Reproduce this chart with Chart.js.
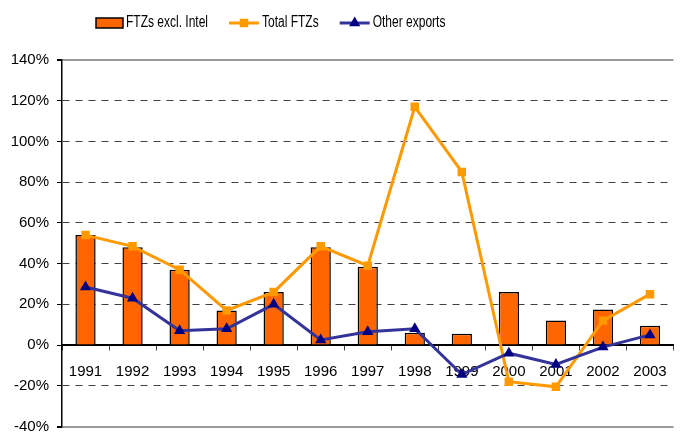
<!DOCTYPE html>
<html>
<head>
<meta charset="utf-8">
<script src="https://cdn.jsdelivr.net/npm/chart.js@4"></script>
<style>
  html, body { margin: 0; padding: 0; background: #fff; }
  #wrap { width: 680px; height: 433px; }
</style>
</head>
<body>
<div id="wrap"><canvas id="chart" width="680" height="433"></canvas></div>
<script>
'use strict';
var years = ['1991', '1992', '1993', '1994', '1995', '1996', '1997', '1998', '1999', '2000', '2001', '2002', '2003'];
var ftzExclIntel = [54, 48, 37, 17, 26, 48, 38.5, 6, 5.5, 26, 12, 17.5, 9.5];
var totalFtz = [54, 48.5, 37, 17, 26, 48.5, 39, 117, 85, -18, -20.5, 12, 25];
var otherExports = [28.5, 23, 7, 8, 20, 2.5, 6.5, 8, -14.5, -4, -9.5, -1, 5];
var seriesNames = ['FTZs excl. Intel', 'Total FTZs', 'Other exports'];
var yMin = -40;
var yMax = 140;
var yStep = 20;

var fontFamily = "'Liberation Sans', Arial, sans-serif";

// legend drawn by hand so the swatches look like the original (line + marker)
// text is squeezed a bit, the original font is narrow
var topLegend = {
  id: 'topLegend',
  afterDraw: function (chart) {
    var ctx = chart.ctx;
    var ds = chart.data.datasets;
    var squeeze = 0.75;
    var x = 96;
    var y = 23;
    ctx.save();
    ctx.font = '16px ' + fontFamily;
    ctx.textBaseline = 'middle';
    for (var i = 0; i < ds.length; i++) {
      if (ds[i].type === 'bar') {
        ctx.fillStyle = ds[i].backgroundColor;
        ctx.fillRect(x, y - 5, 27, 10);
        ctx.strokeStyle = '#000';
        ctx.lineWidth = 1.5;
        ctx.strokeRect(x, y - 5, 27, 10);
      } else {
        ctx.strokeStyle = ds[i].borderColor;
        ctx.lineWidth = 3;
        ctx.beginPath();
        ctx.moveTo(x, y);
        ctx.lineTo(x + 30, y);
        ctx.stroke();
        ctx.fillStyle = ds[i].pointBackgroundColor;
        Chart.helpers.drawPoint(ctx, {
          pointStyle: ds[i].pointStyle,
          radius: ds[i].pointRadius,
          borderWidth: 0
        }, x + 15, y);
      }
      x += (ds[i].type === 'bar' ? 30 : 33);
      ctx.fillStyle = '#000';
      ctx.save();
      ctx.translate(x, y);
      ctx.scale(squeeze, 1);
      ctx.fillText(ds[i].label, 0, 0);
      ctx.restore();
      x += ctx.measureText(ds[i].label).width * squeeze + 21;
    }
    ctx.restore();
  }
};

function gridDash(c) {
  if (c.type !== 'tick') return [];
  var v = c.tick.value;
  if (v === 0 || v === yMin || v === yMax) return [];
  return [7, 6];
}

var ctx = document.getElementById('chart').getContext('2d');
var chart = new Chart(ctx, {
  type: 'bar',
  data: {
    labels: years,
    datasets: [{
      type: 'bar',
      label: seriesNames[0],
      data: ftzExclIntel,
      backgroundColor: '#FF6600',
      borderColor: '#000',
      borderWidth: 1.5,
      barPercentage: 0.43,
      categoryPercentage: 1,
      order: 2
    }, {
      type: 'line',
      label: seriesNames[1],
      data: totalFtz,
      borderColor: '#FF9900',
      borderWidth: 3,
      pointStyle: 'rect',
      pointRadius: 6,
      pointBackgroundColor: '#FF9900',
      pointBorderWidth: 0,
      tension: 0,
      order: 1
    }, {
      type: 'line',
      label: seriesNames[2],
      data: otherExports,
      borderColor: '#333399',
      borderWidth: 3,
      pointStyle: 'triangle',
      pointRadius: 6.5,
      pointBackgroundColor: '#000080',
      pointBorderWidth: 0,
      tension: 0,
      order: 0
    }]
  },
  options: {
    responsive: false,
    devicePixelRatio: 1,
    animation: false,
    layout: { padding: { top: 60, left: 0, right: 0, bottom: 4 } },
    plugins: {
      legend: { display: false },
      tooltip: { enabled: false }
    },
    scales: {
      x: {
        position: { y: 0 },
        grid: {
          drawOnChartArea: false,
          drawTicks: true,
          tickLength: 5,
          tickColor: '#444',
          offset: true
        },
        border: { color: '#000', width: 1.5 },
        ticks: {
          color: '#000',
          padding: 13,
          maxRotation: 0,
          font: { family: fontFamily, size: 15 }
        }
      },
      y: {
        min: yMin,
        max: yMax,
        afterFit: function (scale) {
          scale.width = 62;
          scale.paddingTop = 0;
          scale.paddingBottom = 0;
        },
        grid: {
          color: function (c) {
            var v = c.tick ? c.tick.value : null;
            if (v === yMax || v === yMin) return '#999';
            if (v === 0) return '#000';
            return '#404040';
          },
          lineWidth: function (c) {
            var v = c.tick ? c.tick.value : null;
            return (v === yMax || v === yMin) ? 2 : 1;
          },
          tickLength: 5,
          tickColor: '#000'
        },
        border: { color: '#000', width: 1.5, dash: gridDash },
        ticks: {
          stepSize: yStep,
          color: '#000',
          padding: 8,
          font: { family: fontFamily, size: 15 },
          callback: function (v) { return v + '%'; }
        }
      }
    }
  },
  plugins: [topLegend]
});
</script>
</body>
</html>
